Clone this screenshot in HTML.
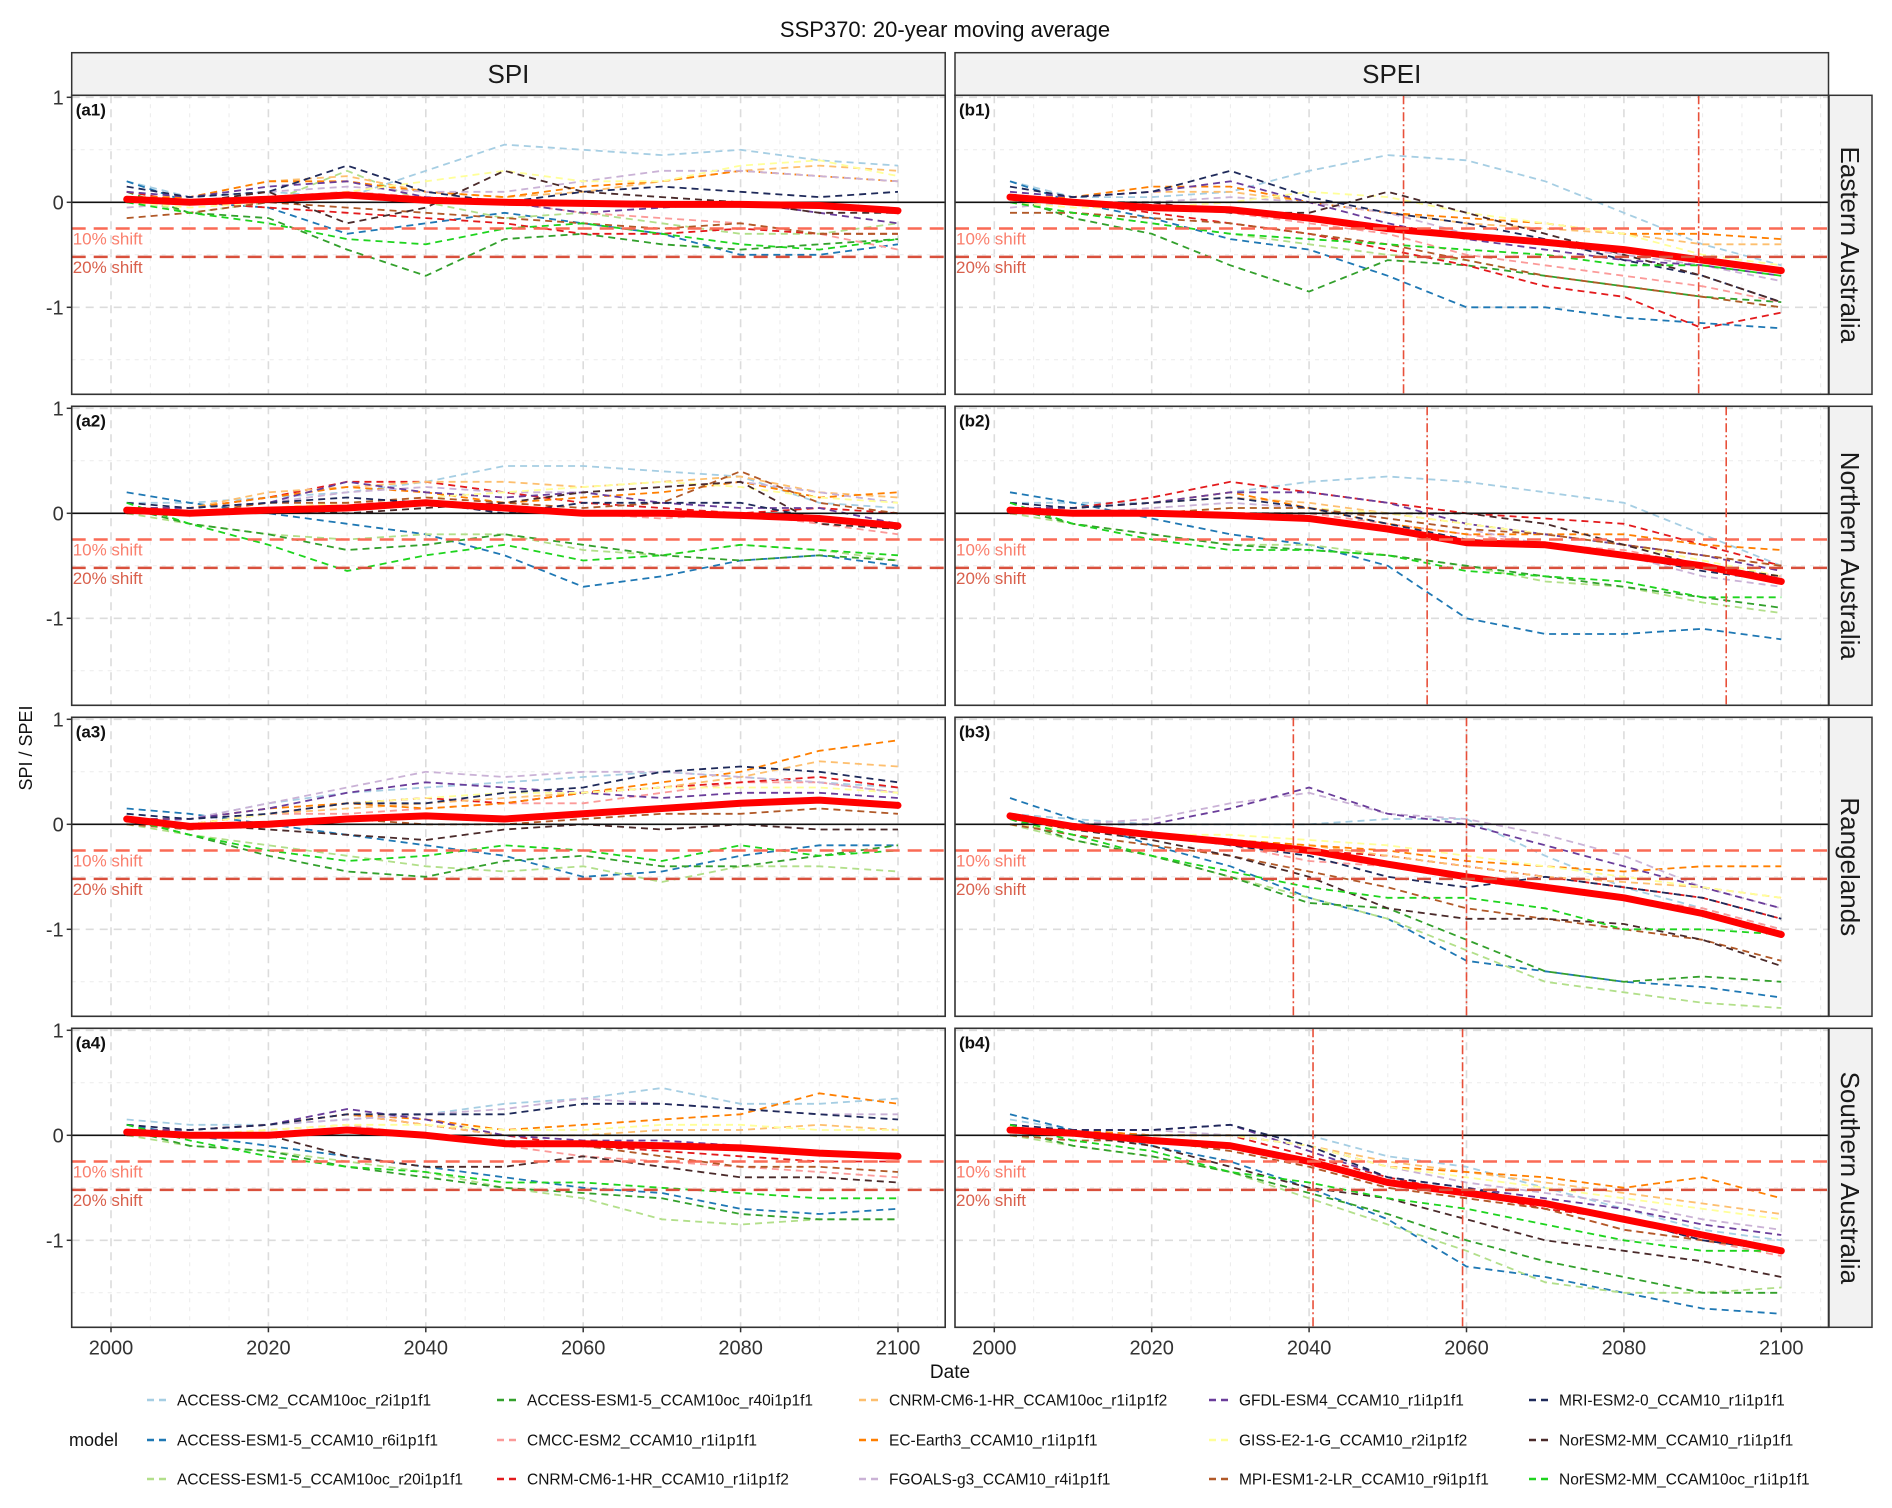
<!DOCTYPE html>
<html><head><meta charset="utf-8"><style>
html,body{margin:0;padding:0;background:#fff}
svg{display:block;font-family:"Liberation Sans",Arial,sans-serif}
</style></head><body>
<svg id="chart" width="1892" height="1508" viewBox="0 0 1892 1508" xmlns="http://www.w3.org/2000/svg">
<text x="945" y="37" text-anchor="middle" font-size="22" fill="#111">SSP370: 20-year moving average</text>
<text transform="translate(32,748) rotate(-90)" text-anchor="middle" font-size="18" fill="#111">SPI / SPEI</text>
<text x="950" y="1378" text-anchor="middle" font-size="19" fill="#111">Date</text>
<g id="panels"></g>
<g id="legend"></g>
</svg>
<script>
const years = [2002,2010,2020,2030,2040,2050,2060,2070,2080,2090,2100];
const models = ["ACCESS-CM2_CCAM10oc_r2i1p1f1","ACCESS-ESM1-5_CCAM10_r6i1p1f1","ACCESS-ESM1-5_CCAM10oc_r20i1p1f1","ACCESS-ESM1-5_CCAM10oc_r40i1p1f1","CMCC-ESM2_CCAM10_r1i1p1f1","CNRM-CM6-1-HR_CCAM10_r1i1p1f2","CNRM-CM6-1-HR_CCAM10oc_r1i1p1f2","EC-Earth3_CCAM10_r1i1p1f1","FGOALS-g3_CCAM10_r4i1p1f1","GFDL-ESM4_CCAM10_r1i1p1f1","GISS-E2-1-G_CCAM10_r2i1p1f2","MPI-ESM1-2-LR_CCAM10_r9i1p1f1","MRI-ESM2-0_CCAM10_r1i1p1f1","NorESM2-MM_CCAM10_r1i1p1f1","NorESM2-MM_CCAM10oc_r1i1p1f1"];
const colors = ["#a6cee3","#1f78b4","#b2df8a","#33a02c","#fb9a99","#e31a1c","#fdbf6f","#ff7f00","#cab2d6","#6a3d9a","#ffff99","#b15928","#1f2a5a","#4a2a2a","#1ed41e"];
const rowLabels = ["Eastern Australia","Northern Australia","Rangelands","Southern Australia"];
const colLabels = ["SPI","SPEI"];
const yTicks = [1,0,-1];
const xTicks = [2000,2020,2040,2060,2080,2100];
const shift10 = -0.25, shift20 = -0.52;
const vlinesB1 = [2052,2089.5];
const vlinesB2 = [2055,2093];
const vlinesB3 = [2038,2060];
const vlinesB4 = [2040.5,2059.5];

const meanA1 = [0.03,0,0.03,0.07,0.02,0,-0.01,-0.02,-0.02,-0.03,-0.08];
const meanB1 = [0.05,0,-0.05,-0.07,-0.15,-0.25,-0.32,-0.38,-0.45,-0.55,-0.65];
const meanA2 = [0.03,0,0.03,0.05,0.1,0.05,0,0,-0.02,-0.05,-0.12];
const meanB2 = [0.03,0,0,-0.02,-0.05,-0.15,-0.28,-0.3,-0.4,-0.5,-0.65];
const meanA3 = [0.05,-0.02,0,0.05,0.08,0.05,0.1,0.15,0.2,0.23,0.18];
const meanB3 = [0.08,-0.02,-0.1,-0.17,-0.25,-0.38,-0.5,-0.6,-0.7,-0.85,-1.05];
const meanA4 = [0.03,0,0,0.05,0,-0.08,-0.08,-0.1,-0.12,-0.17,-0.2];
const meanB4 = [0.05,0.02,-0.05,-0.1,-0.25,-0.45,-0.55,-0.65,-0.8,-0.95,-1.1];

const seriesA1 = [
[0.2,0.05,0.1,0.05,0.3,0.55,0.5,0.45,0.5,0.4,0.35],
[0.2,0,-0.05,-0.3,-0.2,-0.1,-0.2,-0.3,-0.5,-0.5,-0.4],
[0.05,-0.1,0,0.3,0,-0.15,-0.1,-0.2,-0.3,-0.3,-0.2],
[0.1,-0.1,-0.15,-0.45,-0.7,-0.35,-0.3,-0.4,-0.45,-0.4,-0.35],
[0,0,0.05,0.1,0.05,0,-0.1,-0.15,-0.2,-0.3,-0.45],
[0.1,0,-0.05,-0.1,-0.15,-0.2,-0.3,-0.3,-0.25,-0.3,-0.3],
[0,0.05,0.2,0.25,0.1,0.05,0.1,0.2,0.3,0.35,0.3],
[0.05,0.05,0.2,0.2,0.1,0.05,0.15,0.2,0.3,0.25,0.2],
[-0.05,0,0.1,0.15,0.1,0.1,0.2,0.3,0.3,0.25,0.2],
[0.1,0.05,0.15,0.2,0.05,0,-0.1,-0.05,0,-0.1,-0.2],
[0,-0.05,0,0.1,0.2,0.3,0.2,0.2,0.35,0.4,0.25],
[-0.15,-0.1,0,-0.05,-0.1,-0.15,-0.2,-0.25,-0.2,-0.3,-0.3],
[0.15,0.05,0.1,0.35,0.1,0,0.1,0.15,0.1,0.05,0.1],
[0.05,0,0.1,-0.2,-0.05,0.3,0.1,0.05,0,-0.1,-0.1],
[0,-0.1,-0.2,-0.35,-0.4,-0.25,-0.2,-0.3,-0.4,-0.45,-0.35]];
const seriesB1 = [
[0.2,0.05,0.05,0.1,0.3,0.45,0.4,0.2,-0.1,-0.4,-0.6],
[0.2,0,-0.15,-0.35,-0.45,-0.7,-1.0,-1.0,-1.1,-1.15,-1.2],
[0,-0.1,-0.2,-0.3,-0.4,-0.5,-0.55,-0.7,-0.8,-0.9,-1.0],
[0.05,-0.15,-0.3,-0.6,-0.85,-0.55,-0.6,-0.7,-0.8,-0.9,-0.95],
[0,0,-0.05,-0.1,-0.2,-0.3,-0.5,-0.6,-0.7,-0.8,-0.95],
[0.05,0,-0.1,-0.2,-0.3,-0.45,-0.6,-0.8,-0.9,-1.2,-1.05],
[0,0.05,0.1,0.1,0,-0.1,-0.2,-0.25,-0.3,-0.4,-0.4],
[0.05,0.05,0.15,0.15,0,-0.1,-0.15,-0.2,-0.3,-0.3,-0.35],
[-0.05,0,0,0.05,0,-0.1,-0.3,-0.4,-0.5,-0.6,-0.75],
[0.1,0.05,0.1,0.2,0,-0.2,-0.35,-0.45,-0.55,-0.6,-0.7],
[0,-0.05,-0.05,0,0.1,0.05,-0.1,-0.2,-0.3,-0.5,-0.6],
[-0.1,-0.1,-0.15,-0.2,-0.3,-0.4,-0.55,-0.7,-0.8,-0.9,-1.0],
[0.15,0.05,0.1,0.3,0.05,-0.1,-0.2,-0.35,-0.55,-0.7,-0.95],
[0.05,0,0,-0.1,-0.1,0.1,-0.1,-0.3,-0.5,-0.7,-0.95],
[0,-0.1,-0.2,-0.3,-0.35,-0.4,-0.45,-0.5,-0.6,-0.6,-0.7]];
const seriesA2 = [
[0.1,0.1,0.15,0.2,0.3,0.45,0.45,0.4,0.35,0.1,0.05],
[0.2,0.1,0,-0.1,-0.2,-0.4,-0.7,-0.6,-0.45,-0.4,-0.5],
[0,-0.1,-0.2,-0.25,-0.2,-0.2,-0.35,-0.4,-0.3,-0.35,-0.45],
[0.05,-0.1,-0.2,-0.35,-0.3,-0.2,-0.3,-0.4,-0.45,-0.4,-0.45],
[0,0,0.05,0.1,0.1,0.05,0,-0.05,0,-0.1,-0.2],
[0.05,0.05,0.15,0.3,0.3,0.2,0.1,0.05,0,0.05,0],
[0,0.05,0.2,0.25,0.3,0.3,0.25,0.3,0.35,0.2,0.15],
[0.05,0.05,0.15,0.25,0.2,0.1,0.15,0.2,0.3,0.15,0.2],
[0,0.05,0.1,0.2,0.25,0.2,0.2,0.25,0.3,0.2,0.1],
[0.05,0.05,0.1,0.3,0.2,0.15,0.2,0.1,0.05,0.05,-0.1],
[0,0,0.05,0.1,0.15,0.2,0.25,0.3,0.25,0.15,0.1],
[0,0,0.1,0.1,0.15,0.1,0.05,0.1,0.4,0.1,0],
[0.1,0.05,0.1,0.15,0.1,0,0.1,0.1,0.1,-0.05,-0.1],
[0.05,0,0.05,0,0.05,0.1,0.2,0.25,0.3,-0.1,-0.15],
[0.1,-0.1,-0.3,-0.55,-0.4,-0.3,-0.45,-0.4,-0.3,-0.35,-0.4]];
const seriesB2 = [
[0.1,0.1,0.1,0.2,0.3,0.35,0.3,0.2,0.1,-0.2,-0.5],
[0.2,0.1,-0.05,-0.2,-0.3,-0.5,-1.0,-1.15,-1.15,-1.1,-1.2],
[0,-0.1,-0.2,-0.3,-0.3,-0.4,-0.5,-0.65,-0.7,-0.85,-0.95],
[0.05,-0.1,-0.2,-0.3,-0.35,-0.4,-0.5,-0.6,-0.7,-0.8,-0.9],
[0,0,0,0,0,-0.1,-0.2,-0.3,-0.35,-0.5,-0.6],
[0.05,0.05,0.15,0.3,0.2,0.1,0,-0.05,-0.1,-0.3,-0.5],
[0,0.05,0.1,0.15,0.1,0,-0.1,-0.2,-0.3,-0.4,-0.5],
[0.05,0.05,0.1,0.2,0.05,-0.1,-0.2,-0.2,-0.2,-0.3,-0.35],
[0,0,0.05,0.1,0.05,-0.05,-0.15,-0.3,-0.4,-0.6,-0.7],
[0.05,0.05,0.1,0.2,0.2,0.1,-0.1,-0.2,-0.3,-0.4,-0.55],
[0,0,0,0.05,0.05,0,-0.1,-0.2,-0.3,-0.45,-0.6],
[0,0,0,0.05,0.05,-0.05,-0.15,-0.2,-0.3,-0.4,-0.5],
[0.1,0.05,0.1,0.15,0.05,-0.1,-0.25,-0.3,-0.4,-0.55,-0.65],
[0.05,0,0,0,0,0,0,-0.1,-0.3,-0.5,-0.6],
[0.1,-0.1,-0.25,-0.35,-0.35,-0.4,-0.55,-0.6,-0.65,-0.8,-0.8]];
const seriesA3 = [
[0.1,0.05,0.2,0.3,0.35,0.4,0.45,0.5,0.45,0.4,0.35],
[0.15,0.1,0,-0.1,-0.2,-0.3,-0.5,-0.45,-0.3,-0.2,-0.2],
[0,-0.1,-0.2,-0.3,-0.4,-0.45,-0.4,-0.55,-0.4,-0.4,-0.45],
[0.05,-0.1,-0.3,-0.45,-0.5,-0.35,-0.3,-0.4,-0.4,-0.3,-0.2],
[0,0,0.1,0.1,0.15,0.2,0.2,0.3,0.4,0.4,0.3],
[0.05,0,0.1,0.2,0.25,0.2,0.3,0.35,0.4,0.45,0.35],
[0,0,0.1,0.15,0.2,0.25,0.3,0.35,0.45,0.6,0.55],
[0.05,0.05,0.15,0.2,0.15,0.2,0.3,0.4,0.5,0.7,0.8],
[0,0.05,0.2,0.35,0.5,0.45,0.5,0.5,0.45,0.4,0.3],
[0.05,0.05,0.15,0.3,0.4,0.35,0.3,0.25,0.3,0.3,0.25],
[0,0,0.1,0.2,0.25,0.3,0.3,0.35,0.35,0.35,0.3],
[0,-0.05,0,0.05,0,0,0.05,0.1,0.1,0.15,0.1],
[0.1,0.05,0.1,0.2,0.2,0.3,0.35,0.5,0.55,0.5,0.4],
[0.05,0,-0.05,-0.1,-0.15,-0.05,0,-0.05,0,-0.05,-0.05],
[0.05,-0.1,-0.25,-0.35,-0.3,-0.2,-0.25,-0.35,-0.2,-0.3,-0.25]];
const seriesB3 = [
[0.1,0.05,0,0,0,0.05,0.05,-0.3,-0.6,-0.8,-1.0],
[0.25,0.05,-0.2,-0.4,-0.7,-0.9,-1.3,-1.4,-1.5,-1.55,-1.65],
[0,-0.15,-0.3,-0.5,-0.7,-0.9,-1.2,-1.5,-1.6,-1.7,-1.75],
[0.05,-0.15,-0.3,-0.5,-0.75,-0.8,-1.1,-1.4,-1.5,-1.45,-1.5],
[0,-0.05,-0.1,-0.2,-0.35,-0.4,-0.5,-0.6,-0.7,-0.8,-1.0],
[0.05,0,-0.1,-0.15,-0.25,-0.3,-0.4,-0.5,-0.6,-0.7,-0.9],
[0,-0.05,-0.1,-0.15,-0.2,-0.3,-0.4,-0.5,-0.55,-0.6,-0.7],
[0.05,0,-0.1,-0.15,-0.2,-0.25,-0.35,-0.4,-0.45,-0.4,-0.4],
[0,0,0.05,0.2,0.3,0.1,0.05,-0.1,-0.3,-0.6,-0.8],
[0.05,0,0,0.15,0.35,0.1,0,-0.2,-0.4,-0.6,-0.8],
[0,-0.05,-0.1,-0.1,-0.15,-0.2,-0.3,-0.4,-0.5,-0.6,-0.7],
[0,-0.1,-0.2,-0.3,-0.45,-0.6,-0.8,-0.9,-1.0,-1.1,-1.3],
[0.1,0,-0.1,-0.2,-0.3,-0.5,-0.6,-0.5,-0.6,-0.7,-0.9],
[0.05,-0.05,-0.15,-0.3,-0.5,-0.8,-0.9,-0.9,-0.95,-1.1,-1.35],
[0.05,-0.1,-0.3,-0.45,-0.6,-0.7,-0.7,-0.8,-1.0,-1.0,-1.05]];
const seriesA4 = [
[0.15,0.1,0.1,0.15,0.2,0.3,0.35,0.45,0.3,0.3,0.35],
[0.1,0,-0.1,-0.2,-0.3,-0.4,-0.5,-0.55,-0.7,-0.75,-0.7],
[0,-0.1,-0.15,-0.25,-0.35,-0.5,-0.6,-0.8,-0.85,-0.8,-0.8],
[0.05,-0.1,-0.15,-0.3,-0.4,-0.5,-0.55,-0.6,-0.75,-0.8,-0.8],
[0,0,0.05,0.1,0,-0.1,-0.2,-0.25,-0.3,-0.35,-0.4],
[0.05,0.05,0.1,0.2,0.1,0,-0.1,-0.15,-0.2,-0.25,-0.25],
[0,0.05,0.1,0.2,0.1,0,0,0.05,0.05,0.1,0.05],
[0.05,0.05,0.1,0.2,0.15,0.05,0.1,0.15,0.2,0.4,0.3],
[0,0.05,0.1,0.15,0.2,0.25,0.35,0.3,0.25,0.2,0.2],
[0.05,0.05,0.1,0.25,0.15,0,-0.05,-0.05,-0.1,-0.15,-0.2],
[0,0,0.05,0.1,0.1,0.05,0.05,0.1,0.1,0.05,0.05],
[0,0,0,0.05,0,-0.05,-0.1,-0.2,-0.3,-0.3,-0.35],
[0.1,0.05,0.1,0.2,0.2,0.2,0.3,0.3,0.25,0.2,0.15],
[0.05,0,0,-0.2,-0.3,-0.3,-0.2,-0.3,-0.4,-0.4,-0.45],
[0.1,-0.05,-0.2,-0.3,-0.35,-0.45,-0.45,-0.5,-0.55,-0.6,-0.6]];
const seriesB4 = [
[0.15,0.05,0,0,0,-0.2,-0.3,-0.5,-0.7,-0.9,-1.0],
[0.2,0.05,-0.1,-0.25,-0.5,-0.8,-1.25,-1.35,-1.5,-1.65,-1.7],
[0,-0.1,-0.2,-0.35,-0.6,-0.85,-1.1,-1.4,-1.5,-1.5,-1.45],
[0.05,-0.1,-0.2,-0.35,-0.55,-0.75,-1.0,-1.2,-1.35,-1.5,-1.5],
[0,0,-0.05,-0.1,-0.3,-0.5,-0.6,-0.7,-0.9,-1.0,-1.15],
[0.05,0.05,0,0,-0.2,-0.4,-0.55,-0.7,-0.8,-1.0,-1.1],
[0,0.05,0,0,-0.1,-0.25,-0.35,-0.45,-0.55,-0.65,-0.75],
[0.05,0.05,0,0,-0.1,-0.3,-0.35,-0.4,-0.5,-0.4,-0.6],
[0,0.05,0.05,0,-0.1,-0.3,-0.45,-0.55,-0.65,-0.8,-0.9],
[0.05,0.05,0.05,0.1,-0.15,-0.4,-0.5,-0.6,-0.7,-0.85,-0.95],
[0,0,0,0,-0.1,-0.3,-0.4,-0.5,-0.6,-0.7,-0.8],
[0,-0.05,-0.05,-0.15,-0.3,-0.5,-0.6,-0.7,-0.9,-1.0,-1.1],
[0.1,0.05,0.05,0.1,-0.1,-0.4,-0.5,-0.65,-0.8,-1.0,-1.1],
[0.05,0,-0.1,-0.3,-0.5,-0.6,-0.8,-1.0,-1.1,-1.2,-1.35],
[0.1,-0.05,-0.15,-0.35,-0.45,-0.6,-0.7,-0.85,-1.0,-1.1,-1.1]];

const seriesByPanel = [[seriesA1,seriesB1],[seriesA2,seriesB2],[seriesA3,seriesB3],[seriesA4,seriesB4]];
const meanByPanel = [[meanA1,meanB1],[meanA2,meanB2],[meanA3,meanB3],[meanA4,meanB4]];
const vlinesByRow = [vlinesB1,vlinesB2,vlinesB3,vlinesB4];

const NS = "http://www.w3.org/2000/svg";
const colX = [71.7, 955];
const panelW = 873.5, panelH = 299, rowTop0 = 95.3, rowPitch = 311;
function mk(tag, attrs, parent){const e=document.createElementNS(NS,tag);for(const k in attrs)e.setAttribute(k,attrs[k]);parent.appendChild(e);return e;}
function xScale(c, yr){return colX[c] + 39.3 + (yr-2000)*7.87;}
function yScale(r, v){return rowTop0 + r*rowPitch + 107 - v*105;}
const root = document.getElementById('panels');

// column strips
for(let c=0;c<2;c++){
  const g=mk('g',{},root);
  
  
  mk('rect',{x:colX[c],y:52.7,width:panelW,height:42.6,fill:'#f2f2f2',stroke:'#333','stroke-width':1.5},g);
  const t=mk('text',{x:colX[c]+panelW/2,y:83,'text-anchor':'middle','font-size':26,fill:'#1a1a1a'},g);
  t.textContent=colLabels[c];
}

for(let r=0;r<4;r++){
  const top=rowTop0+r*rowPitch;
  // row strip
  const sg=mk('g',{},root);
  
  
  mk('rect',{x:1829,y:top,width:43,height:panelH,fill:'#f2f2f2',stroke:'#333','stroke-width':1.5},sg);
  const st=mk('text',{transform:`translate(1841,${top+panelH/2}) rotate(90)`,'text-anchor':'middle','font-size':26,fill:'#1a1a1a'},sg);
  st.textContent=rowLabels[r];

  for(let c=0;c<2;c++){
    const x0=colX[c];
    const g=mk('g',{},root);
    
    
    const cid='clip'+r+c;
    const cp=mk('clipPath',{id:cid},g);
    mk('rect',{x:x0,y:top,width:panelW,height:panelH},cp);
    mk('rect',{x:x0,y:top,width:panelW,height:panelH,fill:'#fff'},g);
    // grid
    for(let yr=2000;yr<=2105;yr+=5){
      const gx=xScale(c,yr);
      if(gx>x0+panelW) continue;
      const major=(yr%20===0);
      mk('line',{x1:gx,x2:gx,y1:top,y2:top+panelH,stroke:major?'#dcdcdc':'#ebebeb','stroke-width':major?1.6:1,'stroke-dasharray':major?'8,6':'4,5'},g);
    }
    for(const v of [1,0.5,-0.5,-1,-1.5]){
      const gy=yScale(r,v);
      mk('line',{x1:x0,x2:x0+panelW,y1:gy,y2:gy,stroke:(v%1===0)?'#dcdcdc':'#ebebeb','stroke-width':(v%1===0)?1.6:1,'stroke-dasharray':(v%1===0)?'8,6':'4,5'},g);
    }
    const clipG=mk('g',{'clip-path':`url(#${cid})`},g);
    // series
    const S=seriesByPanel[r][c];
    for(let m=0;m<S.length;m++){
      const pts=S[m].map((v,i)=>xScale(c,years[i]).toFixed(1)+','+yScale(r,v).toFixed(1)).join(' ');
      const pl=mk('polyline',{points:pts,fill:'none',stroke:colors[m],'stroke-width':1.8,'stroke-dasharray':'7,5'},clipG);
      
      
    }
    // zero line
    mk('line',{x1:x0,x2:x0+panelW,y1:yScale(r,0),y2:yScale(r,0),stroke:'#111','stroke-width':1.6},clipG);
    // mean
    const M=meanByPanel[r][c];
    const mp=mk('polyline',{points:M.map((v,i)=>xScale(c,years[i]).toFixed(1)+','+yScale(r,v).toFixed(1)).join(' '),fill:'none',stroke:'#ff0000','stroke-width':7,'stroke-linecap':'round','stroke-linejoin':'round'},clipG);
    
    
    // shift lines
    const y10=yScale(r,shift10), y20=yScale(r,shift20);
    const l10=mk('line',{x1:x0,x2:x0+panelW,y1:y10,y2:y10,stroke:'#fa6a55','stroke-width':2.5,'stroke-dasharray':'14,8'},clipG);
    
    
    const l20=mk('line',{x1:x0,x2:x0+panelW,y1:y20,y2:y20,stroke:'#d9503c','stroke-width':2.5,'stroke-dasharray':'14,8'},clipG);
    
    
    const t10=mk('text',{x:x0+1,y:y10+16,'font-size':17,fill:'#fa7f6d'},clipG); t10.textContent='10% shift';
    
    
    const t20=mk('text',{x:x0+1,y:y20+16,'font-size':17,fill:'#d9604c'},clipG); t20.textContent='20% shift';
    
    
    // vertical dash-dot lines
    if(c===1){
      for(const vy of vlinesByRow[r]){
        const vx=xScale(c,vy);
        const vl=mk('line',{x1:vx,x2:vx,y1:top,y2:top+panelH,stroke:'#e8503a','stroke-width':1.6,'stroke-dasharray':'9,3,2,3'},clipG);
        
        
      }
    }
    // border
    mk('rect',{x:x0,y:top,width:panelW,height:panelH,fill:'none',stroke:'#333','stroke-width':1.6},g);
    // tag
    const tag=mk('text',{x:x0+4,y:top+20,'font-size':17,'font-weight':'bold',fill:'#111'},g);
    tag.textContent='('+(c===0?'a':'b')+(r+1)+')';
    
    
    // y ticks
    if(c===0){
      for(const v of yTicks){
        const ty=yScale(r,v);
        mk('line',{x1:x0-5,x2:x0,y1:ty,y2:ty,stroke:'#333','stroke-width':1.5},g);
        const tl=mk('text',{x:x0-8,y:ty+7,'text-anchor':'end','font-size':20,fill:'#333'},g);
        tl.textContent=String(v);
        
        
      }
    }
    // x ticks
    if(r===3){
      for(const xt of xTicks){
        const tx=xScale(c,xt);
        mk('line',{x1:tx,x2:tx,y1:top+panelH,y2:top+panelH+5,stroke:'#333','stroke-width':1.5},g);
        const tl=mk('text',{x:tx,y:top+panelH+27,'text-anchor':'middle','font-size':20,fill:'#333'},g);
        tl.textContent=String(xt);
        
        
      }
    }
  }
}

// legend
const lg=document.getElementById('legend');
const mt=mk('text',{x:69,y:1446,'font-size':18,fill:'#111'},lg); mt.textContent='model';


const legKeyX=[147,497,859,1209,1529];
const legRowY=[1400,1440,1479];
for(let m=0;m<models.length;m++){
  const col=Math.floor(m/3), row=m%3;
  const g=mk('g',{},lg);
  
  
  const kx=legKeyX[col], ky=legRowY[row];
  mk('line',{x1:kx,x2:kx+24,y1:ky,y2:ky,stroke:colors[m],'stroke-width':2.5,'stroke-dasharray':'7,5'},g);
  const t=mk('text',{x:kx+30,y:ky+5.5,'font-size':15.5,fill:'#111'},g);
  t.textContent=models[m];
}
</script>
</body></html>
